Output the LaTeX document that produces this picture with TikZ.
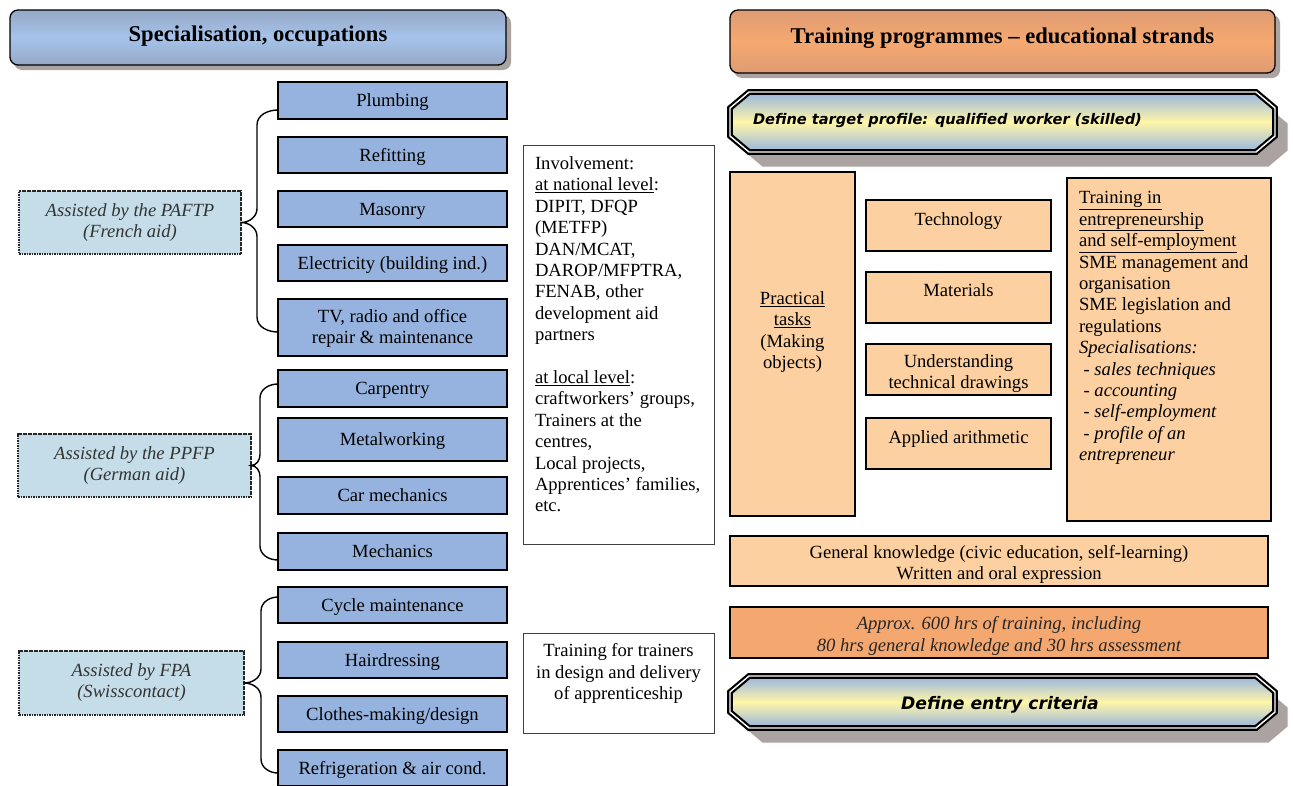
\documentclass[tikz,border=0pt]{standalone}
\usepackage{fontspec}
\setmainfont{Liberation Serif}
\newfontfamily\comicfont{DejaVu Sans}
\usetikzlibrary{calc}
\definecolor{occblue}{RGB}{149,179,222}
\definecolor{assistblue}{RGB}{197,221,233}
\definecolor{peach}{RGB}{252,208,160}
\definecolor{deeporange}{RGB}{245,167,112}
\definecolor{shadowgray}{RGB}{170,163,161}
\definecolor{hbtop}{RGB}{150,168,198}
\definecolor{hbmid}{RGB}{165,195,235}
\definecolor{hotop}{RGB}{222,155,115}
\definecolor{homid}{RGB}{246,169,112}
\definecolor{bannerblue}{RGB}{150,180,225}
\definecolor{banneryellow}{RGB}{255,246,168}
\newcommand\occf{\fontsize{18.6}{21}\selectfont}
\newcommand\bodyf{\fontsize{18.6}{21.4}\selectfont}
\newcommand\headf{\fontsize{22.6}{25}\selectfont\bfseries}
\begin{document}
\begin{tikzpicture}[x=1pt,y=-1pt,
  every node/.style={inner sep=0pt,outer sep=0pt},
  occ/.style={draw=black,line width=1.3pt,fill=occblue,minimum width=229pt,minimum height=36pt,font=\occf,text height=15.5pt,text depth=3.5pt},
  occbox/.style={draw=black,line width=1.3pt,fill=occblue,minimum width=229pt,minimum height=36pt},
  assist/.style={draw=black!85,line width=1.6pt,dash pattern=on 1.6pt off 0.9pt,fill=assistblue,font=\occf\itshape,align=center,text=black!80},
  brace/.style={draw=black,line width=1.4pt},
  peachbox/.style={draw=black,line width=1.3pt,fill=peach},
  plainbox/.style={draw=black!75,line width=0.8pt,fill=white},
  txt/.style={font=\bodyf,align=left},
  banner/.style={shading=axis,top color=bannerblue,bottom color=bannerblue,middle color=banneryellow,draw=black,line width=2.2pt,double=white,double distance=1.4pt},
  bshadow/.style={fill=shadowgray,draw=white,line width=1pt}]
\useasboundingbox (0,0) rectangle (1293,785);

% ---------- headers ----------
\fill[shadowgray,rounded corners=8pt] (14,15) rectangle (511,70);
\node[draw=black,line width=1.3pt,rounded corners=8pt,minimum width=496pt,minimum height=55pt,
      shading=axis,top color=hbtop,bottom color=hbtop,middle color=hbmid] (hleft) at (258,37.5) {};
\node[font=\headf] (hlefttext) at ([yshift=1pt]hleft.center) {Specialisation, occupations};

\fill[shadowgray,rounded corners=8pt] (734,15) rectangle (1280,78);
\node[draw=black,line width=1.3pt,rounded corners=8pt,minimum width=545pt,minimum height=63pt,
      shading=axis,top color=hotop,bottom color=hotop,middle color=homid] (hright) at (1002.5,41.5) {};
\node[font=\headf] (hrighttext) at ([yshift=3pt]hright.center) {Training programmes -- educational strands};

% ---------- occupation boxes ----------
\node[occ,minimum height=37pt] (plumb) at (392.5,100.5) {Plumbing};
\node[occ] (refit) at (392.5,155) {Refitting};
\node[occ] (mason) at (392.5,209) {Masonry};
\node[occ] (elec) at (392.5,263) {Electricity (building ind.)};
\node[occbox,minimum height=57pt] (tv) at (392.5,327.5) {};
\node[font=\occf,align=center] (tvtext) at ([yshift=-0.5pt]tv.center) {TV, radio and office\\repair \& maintenance};
\node[occ,minimum height=37pt] (carp) at (392.5,388.5) {Carpentry};
\node[occ,minimum height=43pt] (metal) at (392.5,439.5) {Metalworking};
\node[occ,minimum height=37pt] (carmech) at (392.5,495.5) {Car mechanics};
\node[occ,minimum height=37pt] (mech) at (392.5,551.5) {Mechanics};
\node[occ] (cycle) at (392.5,605) {Cycle maintenance};
\node[occ] (hair) at (392.5,660) {Hairdressing};
\node[occ] (clothes) at (392.5,714) {Clothes-making/design};
\node[occ] (refrig) at (392.5,768) {Refrigeration \& air cond.};

% ---------- assisted boxes ----------
\node[assist,minimum width=222pt,minimum height=63pt] (paftp) at (130,222.5) {Assisted by the PAFTP\\(French aid)};
\node[assist,minimum width=233pt,minimum height=63pt] (ppfp) at (134.5,465.5) {Assisted by the PPFP\\(German aid)};
\node[assist,minimum width=225pt,minimum height=64pt] (fpa) at (131.5,683) {Assisted by FPA\\(Swisscontact)};

% ---------- braces ----------
\draw[brace] ([yshift=-9.5pt]plumb.west) to[out=180,in=90] ++(-21,15)
  -- ($(paftp.east)+(16,-14)$) to[out=-90,in=0] (paftp.east)
  to[out=0,in=90] ($(paftp.east)+(16,14)$)
  -- ($([yshift=-4.5pt]tv.west)+(-21,-15)$) to[out=-90,in=180] ([yshift=-4.5pt]tv.west);
\draw[brace] ([yshift=4.5pt]carp.west) to[out=180,in=90] ++(-18,14)
  -- ($(ppfp.east)+(9,-11)$) to[out=-90,in=0] (ppfp.east)
  to[out=0,in=90] ($(ppfp.east)+(9,11)$)
  -- ($([yshift=-8.5pt]mech.west)+(-18,-14)$) to[out=-90,in=180] ([yshift=-8.5pt]mech.west);
\draw[brace] ([yshift=8pt]cycle.west) to[out=180,in=90] ++(-17,14)
  -- ($(fpa.east)+(17,-14)$) to[out=-90,in=0] (fpa.east)
  to[out=0,in=90] ($(fpa.east)+(17,14)$)
  -- ($([yshift=-5pt]refrig.west)+(-17,-14)$) to[out=-90,in=180] ([yshift=-5pt]refrig.west);

% ---------- middle column ----------
\node[plainbox,minimum width=191pt,minimum height=399pt] (involve) at (618.5,344.5) {};
\node[txt,anchor=north west] (involvetext) at ([xshift=12pt,yshift=-11.5pt]involve.north west)
 {Involvement:\\\underline{at national level}:\\DIPIT, DFQP\\(METFP)\\DAN/MCAT,\\DAROP/MFPTRA,\\FENAB, other\\development aid\\partners\\[21.4pt]\underline{at local level}:\\craftworkers’ groups,\\Trainers at the\\centres,\\Local projects,\\Apprentices’ families,\\etc.};

\node[plainbox,minimum width=191pt,minimum height=100pt] (trainers) at (618.5,683) {};
\node[txt,align=center] (trainerstext) at ([yshift=9.5pt]trainers.center)
 {Training for trainers\\in design and delivery\\of apprenticeship};

% ---------- right column ----------
\path[bshadow] (762,107) -- (1269,107) -- (1288,123) -- (1288,151) -- (1269,167) -- (762,167) -- (743,151) -- (743,123) -- cycle;
\path[banner] (749,92) -- (1256,92) -- (1275,108) -- (1275,136) -- (1256,152) -- (749,152) -- (730,136) -- (730,108) -- cycle;
\node[font=\comicfont\fontsize{14.6}{17}\selectfont\bfseries\itshape,anchor=west] (profile) at (753,121) {Define target profile: qualified worker (skilled)};

\node[peachbox,minimum width=125pt,minimum height=344pt] (practical) at (792.5,344) {};
\node[txt,align=center] (practicaltext) at ([yshift=12pt]practical.center) {\underline{Practical}\\\underline{tasks}\\(Making\\objects)};

\node[peachbox,minimum width=185pt,minimum height=51pt] (tech) at (958.5,225.5) {};
\node[font=\occf] (techtext) at ([yshift=4.5pt]tech.center) {Technology};
\node[peachbox,minimum width=185pt,minimum height=51pt] (mater) at (958.5,297.5) {};
\node[font=\occf] (matertext) at ([yshift=7.5pt]mater.center) {Materials};
\node[peachbox,minimum width=185pt,minimum height=51pt] (draw) at (958.5,369.5) {};
\node[font=\occf,align=center] (drawtext) at ([yshift=-4.5pt]draw.center) {Understanding\\technical drawings};
\node[peachbox,minimum width=185pt,minimum height=51pt] (arith) at (958.5,443.5) {};
\node[font=\occf] (arithtext) at ([yshift=4.5pt]arith.center) {Applied arithmetic};

\node[peachbox,minimum width=204pt,minimum height=343pt] (entre) at (1169,349.5) {};
\node[txt,anchor=north west] (entretext) at ([xshift=12pt,yshift=-13.5pt]entre.north west)
 {\underline{Training in}\\\underline{entrepreneurship}\\\underline{and self-employment}\\SME management and\\organisation\\SME legislation and\\regulations\\\textit{Specialisations:}\\\textit{\ - sales techniques}\\\textit{\ - accounting}\\\textit{\ - self-employment}\\\textit{\ - profile of an}\\\textit{entrepreneur}};

\node[peachbox,minimum width=538pt,minimum height=50pt] (general) at (999,561) {};
\node[font=\bodyf,align=center] (generaltext) at ([yshift=-3.5pt]general.center)
 {General knowledge (civic education, self-learning)\\Written and oral expression};
\node[draw=black,line width=1.3pt,fill=deeporange,minimum width=538pt,minimum height=51pt] (approx) at (999,632.5) {};
\node[font=\bodyf\itshape,align=center,text=black!85] (approxtext) at ([yshift=-3.5pt]approx.center)
 {Approx. 600 hrs of training, including\\80 hrs general knowledge and 30 hrs assessment};

\path[bshadow] (762,691) -- (1269,691) -- (1288,707) -- (1288,727) -- (1269,743) -- (762,743) -- (743,727) -- (743,707) -- cycle;
\path[banner] (749,676) -- (1256,676) -- (1275,692) -- (1275,712) -- (1256,728) -- (749,728) -- (730,712) -- (730,692) -- cycle;
\node[font=\comicfont\fontsize{17.2}{20}\selectfont\bfseries\itshape] (entry) at (1000,705) {Define entry criteria};
\end{tikzpicture}
\end{document}
